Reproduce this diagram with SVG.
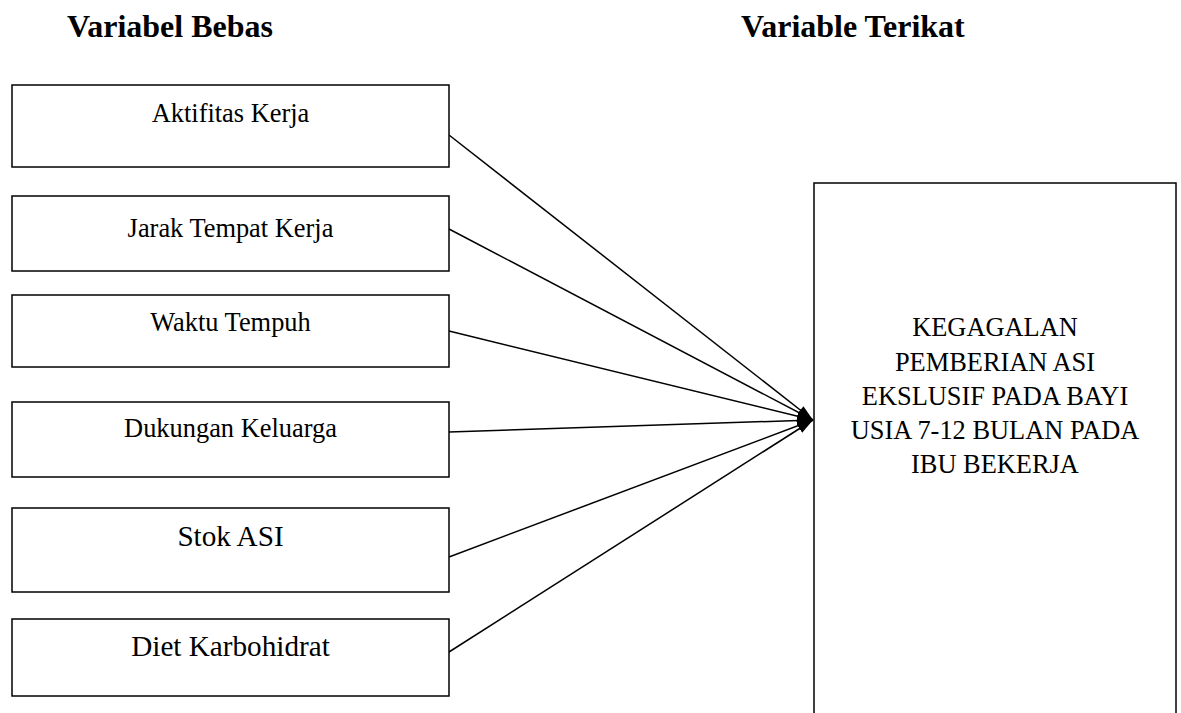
<svg xmlns="http://www.w3.org/2000/svg" width="1181" height="713" viewBox="0 0 1181 713">
<style>
.box{fill:#fff;stroke:#000;stroke-width:1.5}
.t{font-family:"Liberation Serif","Times New Roman",serif;fill:#000;text-anchor:middle}
.s26{font-size:26.4px}
.s29{font-size:29.2px}
.h{font-family:"Liberation Serif","Times New Roman",serif;font-weight:bold;font-size:32px;fill:#000}
.c{stroke:#000;stroke-width:1.5;fill:none;marker-end:url(#ah)}
</style>
<defs>
<marker id="ah" viewBox="0 0 16 10" refX="16" refY="5" markerWidth="16" markerHeight="10" markerUnits="userSpaceOnUse" orient="auto">
<path d="M0,0 L16,5 L0,10 Z" fill="#000"/>
</marker>
</defs>
<rect width="1181" height="713" fill="#fff"/>
<text class="h" x="67" y="37">Variabel Bebas</text>
<text class="h" x="741" y="37">Variable Terikat</text>
<g id="connectors">
<line class="c" x1="449" y1="135" x2="813" y2="420"/>
<line class="c" x1="449" y1="229" x2="813" y2="420"/>
<line class="c" x1="449" y1="331" x2="813" y2="420"/>
<line class="c" x1="449" y1="432" x2="813" y2="420"/>
<line class="c" x1="449" y1="557" x2="813" y2="420"/>
<line class="c" x1="449" y1="652" x2="813" y2="420"/>
</g>
<g id="n1"><rect class="box" x="12" y="85" width="437" height="82"/><text class="t s26" x="230.5" y="122">Aktifitas Kerja</text></g>
<g id="n2"><rect class="box" x="12" y="196" width="437" height="75"/><text class="t s26" x="230.5" y="237">Jarak Tempat Kerja</text></g>
<g id="n3"><rect class="box" x="12" y="295" width="437" height="72"/><text class="t s26" x="230.5" y="331">Waktu Tempuh</text></g>
<g id="n4"><rect class="box" x="12" y="402" width="437" height="75"/><text class="t s26" x="230.5" y="437">Dukungan Keluarga</text></g>
<g id="n5"><rect class="box" x="12" y="508" width="437" height="84"/><text class="t s29" x="230.5" y="546">Stok ASI</text></g>
<g id="n6"><rect class="box" x="12" y="619" width="437" height="77"/><text class="t s29" x="230.5" y="656">Diet Karbohidrat</text></g>
<g id="target">
<rect class="box" x="814" y="183" width="362" height="560"/>
<text class="t s26" x="995" y="336">KEGAGALAN</text>
<text class="t s26" x="995" y="371">PEMBERIAN ASI</text>
<text class="t s26" x="995" y="405">EKSLUSIF PADA BAYI</text>
<text class="t s26" x="995" y="439">USIA 7-12 BULAN PADA</text>
<text class="t s26" x="995" y="473">IBU BEKERJA</text>
</g>
</svg>
